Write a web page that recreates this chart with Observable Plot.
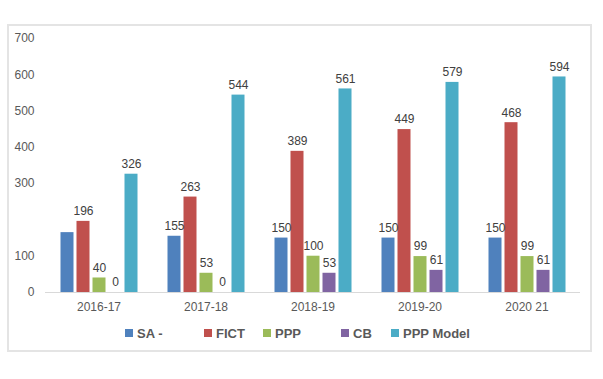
<!DOCTYPE html>
<html>
<head>
<meta charset="utf-8">
<script src="https://cdn.jsdelivr.net/npm/d3@7"></script>
<script src="https://cdn.jsdelivr.net/npm/@observablehq/plot@0.6"></script>
<style>
  html, body { margin: 0; padding: 0; background: #fff; }
  #wrap { position: relative; width: 603px; height: 379px; font-family: "Liberation Sans", Arial, sans-serif; }
  #frame { position: absolute; left: 7px; top: 24px; width: 581px; height: 324px; border: 2px solid #e4e4e4; }
  #chart { position: absolute; left: 0; top: 0; }
  .leg { position: absolute; top: 325px; display: flex; align-items: center; font-size: 13px; font-weight: bold; color: #595959; white-space: nowrap; height: 16px; }
  .sw { width: 8px; height: 8px; margin-right: 4px; display: inline-block; }
</style>
</head>
<body>
<div id="wrap">
  <div id="frame"></div>
  <div id="chart"></div>
</div>
<script>
const years = ["2016-17", "2017-18", "2018-19", "2019-20", "2020 21"];
const seriesNames = ["SA -", "FICT", "PPP", "CB", "PPP Model"];
const seriesColors = ["#4f81bd", "#c0504d", "#9bbb59", "#8064a2", "#4bacc6"];
const SA = [165, 155, 150, 150, 150];
const FICT = [196, 263, 389, 449, 468];
const PPP = [40, 53, 100, 99, 99];
const CB = [0, 0, 53, 61, 61];
const PPPModel = [326, 544, 561, 579, 594];
// data labels as shown (first SA bar has no label)
const SA_labels = ["", "155", "150", "150", "150"];
const yTicks = [0, 100, 300, 400, 500, 600, 700];
const legendLeft = [125, 204, 263, 341, 391];

const valuesBySeries = [SA, FICT, PPP, CB, PPPModel];
const data = [];
years.forEach((yr, i) => {
  seriesNames.forEach((s, j) => {
    const v = valuesBySeries[j][i];
    const label = j === 0 ? SA_labels[i] : String(v);
    data.push({year: yr, series: s, value: v, label});
  });
});

const chart = Plot.plot({
  width: 603,
  height: 320,
  marginLeft: 44.5,
  marginRight: 23.5,
  marginTop: 38,
  marginBottom: 28,
  style: {fontFamily: "'Liberation Sans', Arial, sans-serif", fontSize: "12px", background: "transparent", color: "#595959"},
  fx: {domain: years, padding: 0, axis: "bottom", tickSize: 0, tickPadding: 10, label: null},
  x: {domain: seriesNames, paddingInner: 0.2, paddingOuter: 0.84, axis: null},
  y: {domain: [0, 700], ticks: yTicks, tickSize: 0, tickPadding: 11, label: null},
  color: {domain: seriesNames, range: seriesColors},
  marks: [
    Plot.ruleY([0], {stroke: "#d9d9d9", strokeWidth: 1}),
    Plot.barY(data, {fx: "year", x: "series", y: "value", fill: "series"}),
    Plot.text(data.filter(d => d.label !== ""), {fx: "year", x: "series", y: "value", text: "label", dy: -10, fill: "#404040", fontSize: 12})
  ]
});
document.getElementById("chart").appendChild(chart);

const wrap = document.getElementById("wrap");
seriesNames.forEach((s, j) => {
  const d = document.createElement("div");
  d.className = "leg";
  d.style.left = legendLeft[j] + "px";
  const sw = document.createElement("span");
  sw.className = "sw";
  sw.style.background = seriesColors[j];
  d.appendChild(sw);
  d.appendChild(document.createTextNode(s));
  wrap.appendChild(d);
});
</script>
</body>
</html>
